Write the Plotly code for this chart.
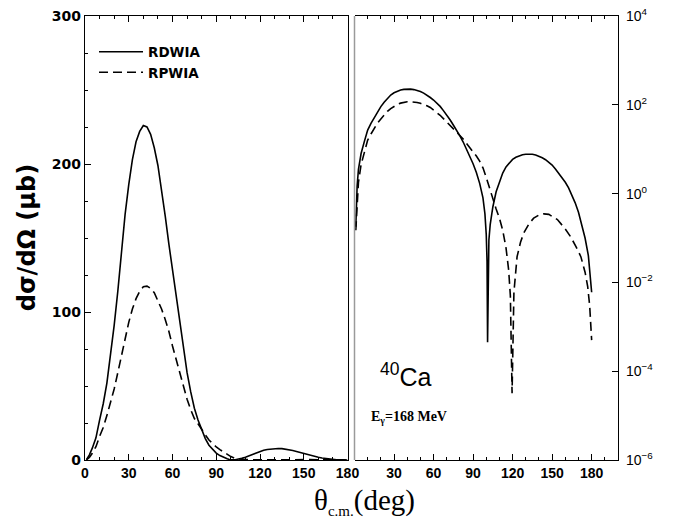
import plotly.graph_objects as go

# RDWIA (solid) : angle (deg) and cross section (mu b / sr)
theta_rdwia = [1, 2, 3, 5, 7.5, 10, 12.5, 15, 17.5, 20, 22.5, 25, 27.5, 30, 32.5, 35, 37.5,
               40, 42.5, 45, 47.5, 50, 52.5, 55, 57.5, 60, 62.5, 65, 67.5, 70, 72.5, 75,
               77.5, 80, 82.5, 85, 87.5, 90, 92.5, 95, 97.5, 99, 100, 100.6, 101, 101.4,
               102, 103, 105, 107.5, 110, 112.5, 115, 117.5, 120, 122.5, 125, 127.5, 130,
               132.5, 135, 137.5, 140, 142.5, 145, 147.5, 150, 152.5, 155, 157.5, 160,
               162.5, 165, 167.5, 170, 172.5, 175, 177.5, 179, 180]
sigma_rdwia = [0.18, 1.5, 3.5, 8, 15, 27, 38, 52, 70, 91, 114, 141, 166, 186, 203, 215, 222,
               226, 225, 220, 211, 199, 183, 165, 146, 128, 110, 92, 74, 59, 46, 35,
               27, 20, 14.5, 10, 7, 4.7, 3.0, 1.7, 0.8, 0.35, 0.12, 0.03, 0.00045, 0.03,
               0.09, 0.2, 0.5, 1.1, 1.9, 2.9, 4.0, 5.0, 5.9, 6.6, 7.1, 7.5, 7.7,
               7.8, 7.7, 7.4, 7.0, 6.4, 5.8, 5.1, 4.4, 3.6, 2.9, 2.3, 1.8,
               1.35, 0.95, 0.62, 0.38, 0.2, 0.1, 0.04, 0.015, 0.006]

# RPWIA (dashed)
theta_rpwia = [1, 2, 3, 5, 7.5, 10, 12.5, 15, 17.5, 20, 22.5, 25, 27.5, 30, 32.5, 35, 37.5,
               40, 42.5, 45, 47.5, 50, 52.5, 55, 57.5, 60, 62.5, 65, 67.5, 70, 72.5, 75,
               77.5, 80, 82.5, 85, 87.5, 90, 92.5, 95, 97.5, 100, 102.5, 105, 107.5, 110,
               112.5, 115, 117, 118.3, 119.6, 121, 123.4, 126, 128.5, 132.5, 136, 140,
               143.7, 147.5, 150, 154, 160, 164, 168, 171.8, 175, 177, 178.5, 180]
sigma_rpwia = [0.15, 0.8, 1.8, 4.5, 9, 16, 22, 30, 39, 48, 59, 71, 82, 93, 102, 109, 114,
               117, 117.5, 116, 113, 108, 102, 95, 87, 77, 68, 58, 49, 41, 34, 28,
               24.5, 20.5, 17, 13.5, 11, 8.8, 7, 5.4, 3.8, 2.3, 1.3, 0.75, 0.45, 0.28,
               0.15, 0.06, 0.019, 0.005, 0.000032, 0.006, 0.038, 0.08, 0.13, 0.21, 0.28, 0.33,
               0.35, 0.34, 0.31, 0.26, 0.16, 0.107, 0.065, 0.038, 0.017, 0.008, 0.003, 0.0005]

x_ticks_left = [0, 30, 60, 90, 120, 150, 180]
x_ticks_right = [30, 60, 90, 120, 150, 180]
y_ticks_left = [0, 100, 200, 300]
y_ticks_right = [1e-6, 1e-4, 1e-2, 1e0, 1e2, 1e4]
y_ticktext_right = ["10<sup>−6</sup>", "10<sup>−4</sup>", "10<sup>−2</sup>",
                    "10<sup>0</sup>", "10<sup>2</sup>", "10<sup>4</sup>"]

W, H = 681, 520
L, R, T, B = 85, 618, 15.5, 460          # plot-area pixel box
PW, PH = R - L, B - T


def px(x):
    return (x - L) / PW


def py(y):
    return (B - y) / PH


solid = dict(color="black", width=1.6)
dashed = dict(color="black", width=1.6, dash="9px,5px")

fig = go.Figure()
fig.add_trace(go.Scatter(x=theta_rdwia, y=sigma_rdwia, mode="lines", line=solid,
                         name="RDWIA", xaxis="x", yaxis="y"))
fig.add_trace(go.Scatter(x=theta_rpwia, y=sigma_rpwia, mode="lines", line=dashed,
                         name="RPWIA", xaxis="x", yaxis="y"))
fig.add_trace(go.Scatter(x=theta_rdwia, y=sigma_rdwia, mode="lines", line=solid,
                         showlegend=False, xaxis="x2", yaxis="y2"))
fig.add_trace(go.Scatter(x=theta_rpwia, y=sigma_rpwia, mode="lines", line=dashed,
                         showlegend=False, xaxis="x2", yaxis="y2"))

tickfont = dict(family="Liberation Sans", size=14, color="black", weight="bold")

common_x = dict(showgrid=False, zeroline=False, showline=True, linecolor="black",
                linewidth=1.3, ticks="inside", ticklen=6, tickwidth=1.2, tickcolor="black",
                mirror="ticks", tickfont=tickfont, automargin=False,
                minor=dict(dtick=10, ticks="inside", ticklen=3, tickwidth=1, tickcolor="black"))

fig.update_layout(
    width=W, height=H,
    margin=dict(l=L, r=W - R, t=T, b=H - B, autoexpand=False),
    paper_bgcolor="white", plot_bgcolor="white",
    xaxis=dict(domain=[0, px(347.5)], range=[0, 180], tickvals=x_ticks_left,
               anchor="y", **common_x),
    yaxis=dict(domain=[0, 1], range=[0, 300], tickvals=y_ticks_left, anchor="x",
               automargin=False,
               showgrid=False, zeroline=False, showline=True, linecolor="black",
               linewidth=1.3, mirror=True, ticks="inside", ticklen=6, tickwidth=1.2,
               tickcolor="black", tickfont=dict(family="DejaVu Sans", size=14,
                                                 color="black", weight="bold"),
               minor=dict(dtick=25, ticks="inside", ticklen=3, tickwidth=1,
                          tickcolor="black")),
    xaxis2=dict(domain=[px(354.5), 1], range=[0, 200], tickvals=x_ticks_right,
                anchor="y2", **common_x),
    yaxis2=dict(domain=[0, 1], type="log", range=[-6, 4], side="right", anchor="x2",
                automargin=False, ticklabelstandoff=4,
                tickvals=y_ticks_right, ticktext=y_ticktext_right,
                showgrid=False, zeroline=False, showline=True, linecolor="black",
                linewidth=1.3, mirror=False, ticks="inside", ticklen=6, tickwidth=1.2,
                tickcolor="black",
                tickfont=dict(family="Liberation Sans", size=14, color="black")),
    legend=dict(x=px(94), y=py(36), xanchor="left", yanchor="top", itemwidth=44,
                bgcolor="rgba(0,0,0,0)", borderwidth=0, tracegroupgap=0,
                font=dict(family="DejaVu Sans", size=13.5, color="black", weight="bold")),
    showlegend=True,
)

# grey left border of the right panel
fig.add_shape(type="line", xref="paper", yref="paper", x0=px(354.5), x1=px(354.5),
              y0=0, y1=1, line=dict(color="#9a9a9a", width=1.5))

fig.add_annotation(xref="paper", yref="paper", x=px(27), y=py(238),
                   xanchor="center", yanchor="middle",
                   text="dσ/dΩ (μb)", textangle=-90, showarrow=False,
                   font=dict(family="DejaVu Sans", size=24, color="black", weight="bold"))
fig.add_annotation(xref="paper", yref="paper", x=px(364), y=py(482), yanchor="top",
                   xanchor="center",
                   text="θ<sub><span style='font-size:15px'>c.m.</span></sub>(deg)",
                   showarrow=False,
                   font=dict(family="Liberation Serif", size=29, color="black"))
fig.add_annotation(xref="paper", yref="paper", x=px(406), y=py(375),
                   xanchor="center", yanchor="middle",
                   text="<sup>40</sup>Ca", showarrow=False,
                   font=dict(family="Liberation Sans", size=25, color="black"))
fig.add_annotation(xref="paper", yref="paper", x=px(409), y=py(417),
                   xanchor="center", yanchor="middle",
                   text="E<sub>γ</sub>=168 MeV", showarrow=False,
                   font=dict(family="Liberation Serif", size=14, color="black",
                             weight="bold"))

fig.write_html("out.html", config={"displayModeBar": False},
               post_script="document.body.style.margin='0';document.body.style.padding='0';")
